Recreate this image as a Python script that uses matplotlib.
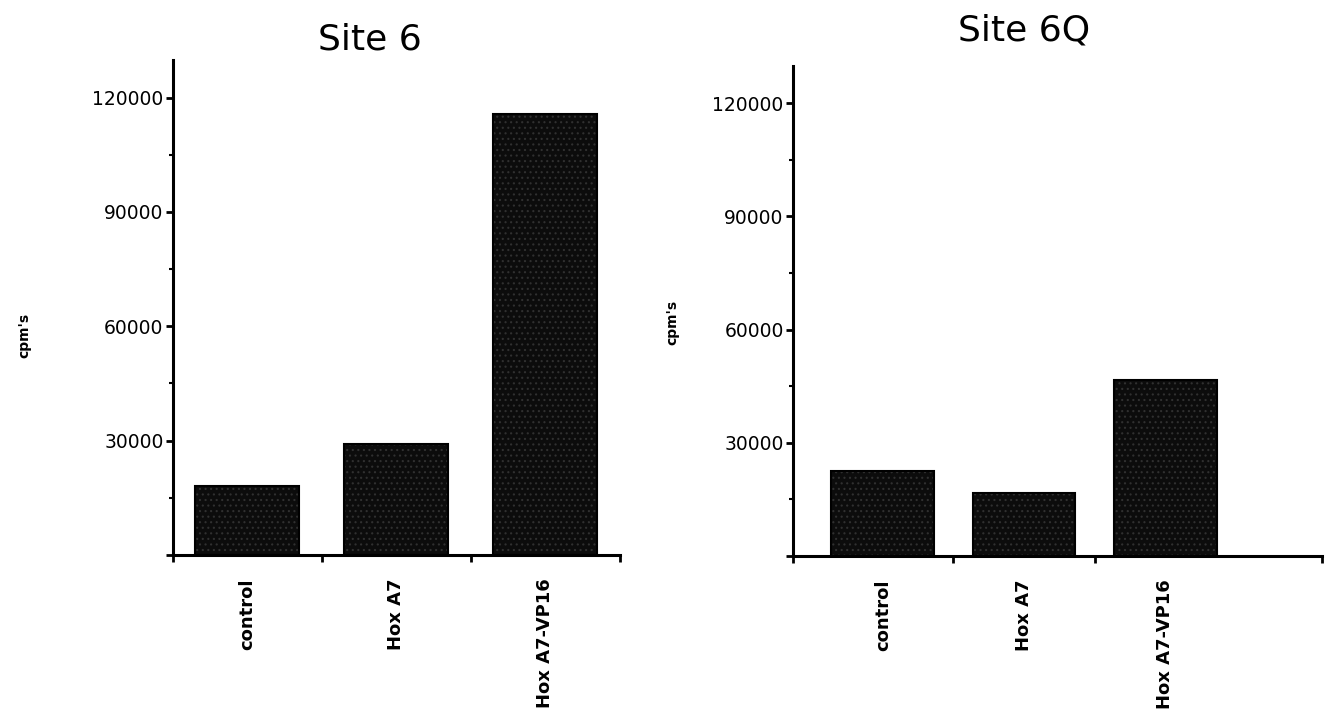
import matplotlib
matplotlib.use("Agg")
import matplotlib.pyplot as plt
from matplotlib.ticker import MultipleLocator, FixedLocator, NullFormatter

categories = ["control", "Hox A7", "Hox A7-VP16"]
site6_values = [18000, 29000, 115800]
site6q_values = [22600, 16800, 46600]
yticks = [30000, 60000, 90000, 120000]
titles = ["Site 6", "Site 6Q"]
ylabel = "cpm's"

plt.rcParams['font.family'] = ['DejaVu Sans']
plt.rcParams['hatch.linewidth'] = 0.8

fig = plt.figure(figsize=(13.25, 7.18), dpi=100)
W, H = 1325, 718

def px_axes(x0, x1, ytop, ybot):
    return fig.add_axes([x0 / W, 1 - ybot / H, (x1 - x0) / W, (ybot - ytop) / H])

ax1 = px_axes(172.5, 619.5, 59.5, 555)
ax2 = px_axes(792.7, 1321.6, 65.5, 556)

def style(ax, values, xlim, bound_ticks, title, title_x, title_y, width):
    x = list(range(len(values)))
    ax.bar(x, values, width=width, color='#0c0c0c', edgecolor='#303030',
           hatch='...', linewidth=0, zorder=2)
    ax.bar(x, values, width=width, fill=False, edgecolor='#000000',
           linewidth=1.5, zorder=3)
    ax.set_xlim(*xlim)
    ax.set_ylim(0, 130000)
    for s in ['top', 'right']:
        ax.spines[s].set_visible(False)
    for s in ['left', 'bottom']:
        ax.spines[s].set_linewidth(2.2)
        ax.spines[s].set_color('black')
    ax.yaxis.set_major_locator(FixedLocator([0] + yticks))
    ax.set_yticklabels([""] + [str(v) for v in yticks])
    ax.yaxis.set_minor_locator(MultipleLocator(15000))
    ax.tick_params(axis='y', which='major', direction='out', length=5, width=2,
                   pad=1.5, labelsize=13.5)
    ax.tick_params(axis='y', which='minor', direction='out', length=3, width=1.5)
    ax.xaxis.set_major_locator(FixedLocator(bound_ticks))
    ax.xaxis.set_major_formatter(NullFormatter())
    ax.xaxis.set_minor_locator(FixedLocator(x))
    ax.set_xticklabels(categories, minor=True, rotation=90, fontsize=13,
                       fontweight='bold')
    ax.tick_params(axis='x', which='major', direction='out', length=5, width=2)
    ax.tick_params(axis='x', which='minor', length=0, pad=17)
    ax.set_title(title, fontsize=26, x=title_x, y=title_y, pad=0)

style(ax1, site6_values, (-0.5, 2.5), [-0.5, 0.5, 1.5, 2.5], titles[0],
      0.442, 1.02, 0.70)
style(ax2, site6q_values, (-0.64, 3.11), [-0.64, 0.5, 1.5, 3.11], titles[1],
      0.437, 1.05, 0.73)

fig.text(24 / W, 1 - 335 / H, ylabel, rotation=90, ha='center', va='center',
         fontsize=10, fontweight='bold')
fig.text(672 / W, 1 - 322 / H, ylabel, rotation=90, ha='center', va='center',
         fontsize=10, fontweight='bold')

fig.savefig("out.png", dpi=100, facecolor='white')
